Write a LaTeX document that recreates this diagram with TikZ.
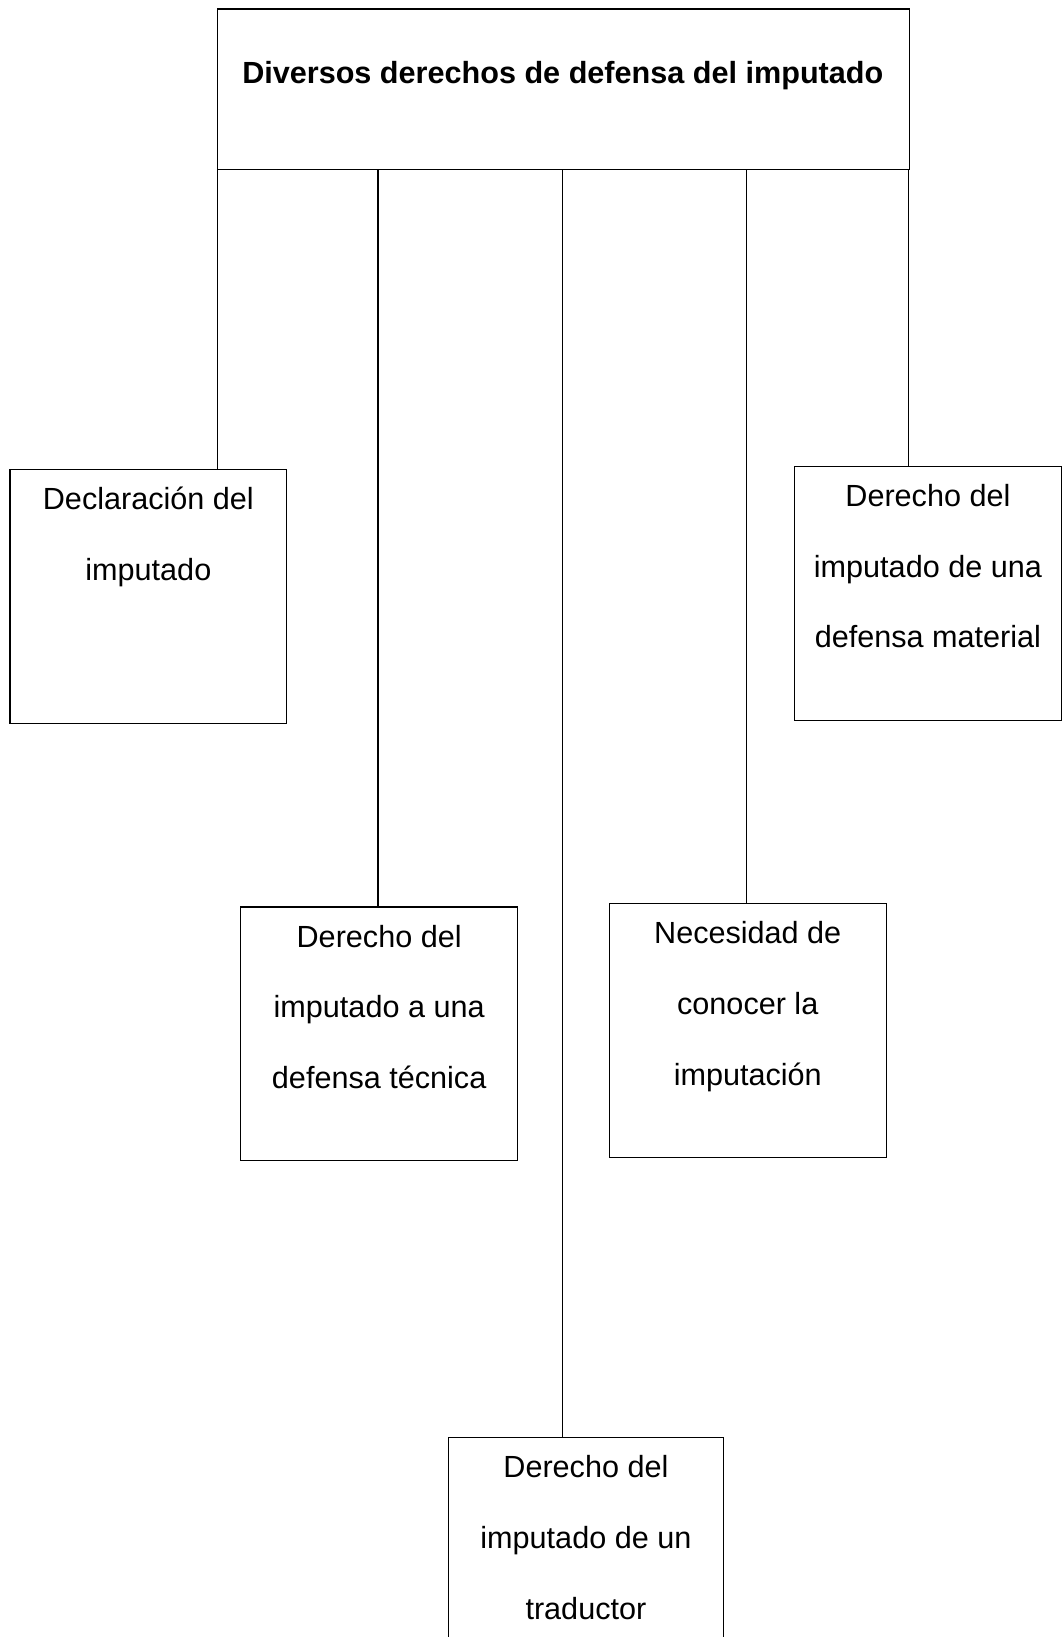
\documentclass[tikz,border=0pt]{standalone}
\usepackage{fontspec}
\setmainfont{Liberation Sans}
\newcommand\bxt[3]{\parbox[c][#2][t]{#1}{\centering\fontsize{30.6}{70.8}\selectfont\rule{0pt}{40pt}#3}}
\begin{document}
\begin{tikzpicture}[x=1pt,y=-1pt,line width=1.2pt,
  box/.style={draw,inner sep=0pt,anchor=north west}]
\useasboundingbox (0,0) rectangle (1062,1637);
\clip (0,0) rectangle (1062,1637);
% top box
\node[box,minimum width=691.3pt,minimum height=160.8pt] (top) at (217.2,8.4) {};
\node[font=\fontsize{30.6}{36}\selectfont\bfseries] (title) at (562.8,76) {Diversos derechos de defensa del imputado};
% boxes
\node[box] (b1) at (9.4,468.8) {\bxt{276.7pt}{253.8pt}{Declaración del\\imputado}};
\node[box] (b5) at (793.6,465.7) {\bxt{267.4pt}{253.8pt}{Derecho del\\imputado de una\\defensa material}};
\node[box] (b2) at (240.2,906.4) {\bxt{276.7pt}{253.7pt}{Derecho del\\imputado a una\\defensa técnica}};
\node[box] (b4) at (608.8,903.2) {\bxt{276.7pt}{253.8pt}{Necesidad de\\conocer la\\imputación}};
\node[box] (b3) at (448.0,1436.8) {\bxt{274.6pt}{253.8pt}{Derecho del\\imputado de un\\traductor}};
% connectors
\coordinate (d1) at (217.2,169.2);
\coordinate (d2) at (378.0,169.2);
\coordinate (d3) at (562.8,169.2);
\coordinate (d4) at (746.6,169.2);
\coordinate (d5) at (908.5,169.2);
\draw (d1) -- (d1 |- b1.north);
\draw (d2) -- (d2 |- b2.north);
\draw (d3) -- (d3 |- b3.north);
\draw (d4) -- (d4 |- b4.north);
\draw (d5) -- (d5 |- b5.north);
\end{tikzpicture}
\end{document}
